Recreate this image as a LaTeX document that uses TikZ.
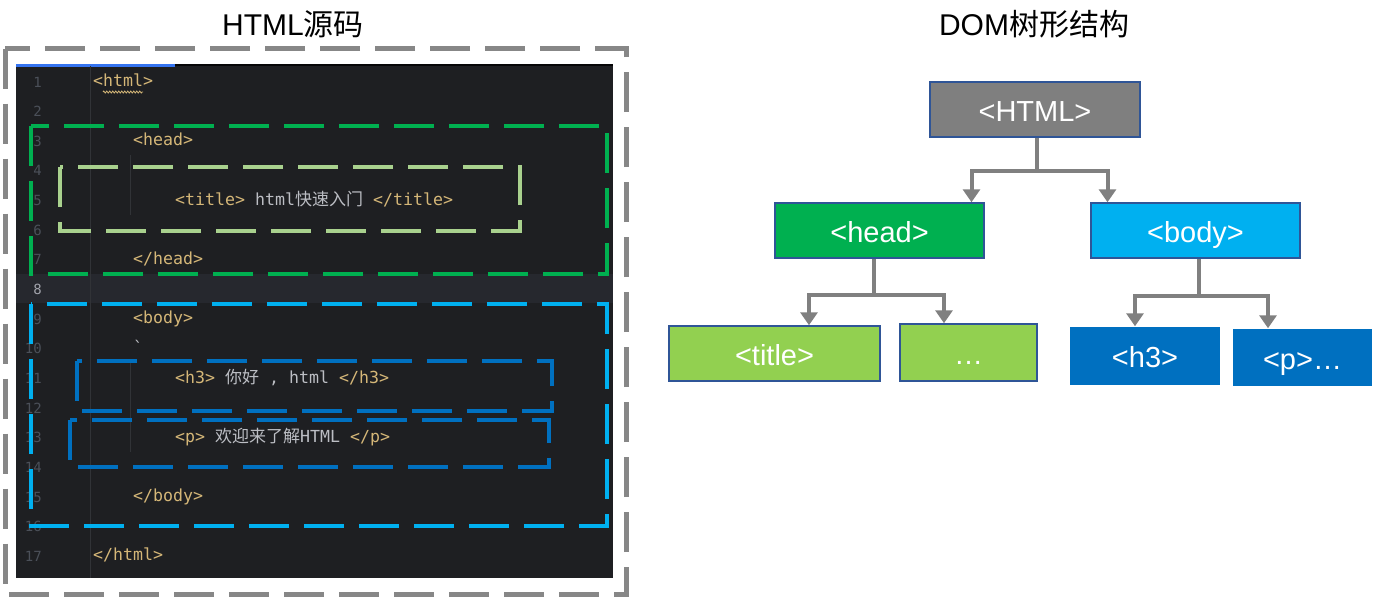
\documentclass[tikz,border=0pt]{standalone}
\usepackage{fontspec}
\setmainfont{Liberation Sans}
\newfontfamily\cjk{Noto Sans CJK SC}
\newfontfamily\codefont{DejaVu Sans Mono}
\usetikzlibrary{arrows.meta,calc,decorations.pathmorphing}
\definecolor{bg}{HTML}{1E1F22}
\definecolor{hl}{HTML}{26282E}
\definecolor{guide}{HTML}{313337}
\definecolor{tagc}{HTML}{D5B778}
\definecolor{txtc}{HTML}{BCBEC4}
\definecolor{lnc}{HTML}{4B5059}
\definecolor{lnhl}{HTML}{A1A3AB}
\definecolor{outg}{HTML}{878787}
\definecolor{dgreen}{HTML}{00B050}
\definecolor{lgreen}{HTML}{A9D18E}
\definecolor{lblue}{HTML}{00B0F0}
\definecolor{dblue}{HTML}{0070C0}
\definecolor{ngreen}{HTML}{92D050}
\definecolor{ngray}{HTML}{7F7F7F}
\definecolor{nborder}{HTML}{2F5597}
\definecolor{conng}{HTML}{808080}
\definecolor{tabblue}{HTML}{3574F0}
\newcommand\tg[1]{\textcolor{tagc}{#1}}
\newcommand\tx[1]{\textcolor{txtc}{#1}}
\tikzset{
  codeline/.style={anchor=west,inner sep=0pt,text height=12pt,text depth=3pt,font=\codefont\fontsize{16.6}{18}\selectfont},
  lineno/.style={anchor=east,inner sep=0pt,text height=10pt,text depth=0pt,font=\codefont\fontsize{14}{16}\selectfont,text=lnc},
  dbox/.style={line width=4.5pt,dash pattern=on 40pt off 15pt},
  treenode/.style={draw=nborder,line width=1.5pt,text=white,inner sep=0pt,text height=25pt,text depth=2pt,font=\fontsize{29}{32}\selectfont},
  conn/.style={draw=conng,line width=4pt},
  arr/.style={conn,-{Triangle[width=17pt,length=13pt]}},
  ttl/.style={inner sep=0pt,font=\fontsize{30}{33}\selectfont}
}
\begin{document}
\begin{tikzpicture}[x=1pt,y=-1pt]
\useasboundingbox (0,0) rectangle (1373,598);
% titles
\node[ttl] (t1) at (293,24) {HTML{\cjk 源码}};
\node[ttl] (t2) at (1034,24) {DOM{\cjk 树形结构}};
% code editor
\fill[bg] (16,64) rectangle (613,578);
\fill[hl] (16,274) rectangle (613,303);
\fill[tabblue] (16,64) rectangle (175,66.5);
\fill[black!80!bg] (175,64) rectangle (613,65.5);
\draw[guide,line width=1pt] (90,66) -- (90,578);
\draw[guide,line width=1pt] (130,155) -- (130,215);
\draw[guide,line width=1pt] (130,363) -- (130,452);
% line numbers
\foreach \n in {1,...,17}{
  \pgfmathsetmacro\yy{82+(\n-1)*29.65}
  \ifnum\n=8
    \node[lineno,text=lnhl] (n\n) at (42,\yy) {\n};
  \else
    \node[lineno] (n\n) at (42,\yy) {\n};
  \fi
}
% code
\node[codeline] (l1) at (93,82) {\tg{<html>}};
\draw[tagc,line width=0.8pt,decorate,decoration={zigzag,amplitude=1pt,segment length=3pt}] (103,92) -- (143,92);
\node[codeline] (l3) at (133,141.3) {\tg{<head>}};
\node[codeline] (l5) at (175,200.6) {\tg{<title>} \tx{html{\cjk\fontsize{17}{18}\selectfont 快速入门}} \tg{</title>}};
\node[codeline] (l7) at (133,259.9) {\tg{</head>}};
\node[codeline] (l9) at (133,319.2) {\tg{<body>}};
\node[codeline] (l10) at (133,348.9) {\tx{`}};
\node[codeline] (l11) at (175,378.5) {\tg{<h3>} \tx{{\cjk\fontsize{17}{18}\selectfont 你好} , html} \tg{</h3>}};
\node[codeline] (l13) at (175,437.8) {\tg{<p>} \tx{{\cjk\fontsize{17}{18}\selectfont 欢迎来了解}HTML} \tg{</p>}};
\node[codeline] (l15) at (133,497.1) {\tg{</body>}};
\node[codeline] (l17) at (93,556.4) {\tg{</html>}};
% dashed regions
\draw[dbox,dgreen] (31,126) rectangle (607,274);
\draw[dbox,lgreen] (60,167) rectangle (520,231);
\draw[dbox,lblue] (31,304) rectangle (607,526);
\draw[dbox,dblue] (77,361) rectangle (552,411);
\draw[dbox,dblue] (70,420) rectangle (549,467);
\draw[dbox,outg,line width=5pt] (5,48.5) rectangle (626.5,594.5);
% tree
\node[treenode,fill=ngray,minimum width=210pt,minimum height=55pt] (html) at (1035,109.5) {<HTML>};
\node[treenode,fill=dgreen,minimum width=209pt,minimum height=55pt] (head) at (879.5,230.5) {<head>};
\node[treenode,fill=lblue,minimum width=209pt,minimum height=55pt] (body) at (1195.5,230.5) {<body>};
\node[treenode,fill=ngreen,minimum width=211pt,minimum height=55pt] (title) at (774.5,353.5) {<title>};
\node[treenode,fill=ngreen,minimum width=137pt,minimum height=57pt] (dots) at (968.5,352.5) {…};
\node[treenode,draw=none,fill=dblue,minimum width=150pt,minimum height=58pt] (h3) at (1145,356) {<h3>};
\node[treenode,draw=none,fill=dblue,minimum width=139pt,minimum height=57pt] (p) at (1302.5,357.5) {<p>…};
% connectors
\draw[conn] ([xshift=2pt]html.south) -- ++(0,33) coordinate (j1);
\draw[arr] (j1) -| ([xshift=92pt]head.north);
\draw[arr] (j1) -| ([xshift=-88pt]body.north);
\draw[conn] ([xshift=-5.5pt]head.south) -- ++(0,36) coordinate (j2);
\draw[arr] (j2) -| ([xshift=34.5pt]title.north);
\draw[arr] (j2) -| ([xshift=-24.5pt]dots.north);
\draw[conn] ([xshift=3.5pt]body.south) -- ++(0,37) coordinate (j3);
\draw[arr] (j3) -| ([xshift=-10pt]h3.north);
\draw[arr] (j3) -| ([xshift=-34.5pt]p.north);
\end{tikzpicture}
\end{document}
